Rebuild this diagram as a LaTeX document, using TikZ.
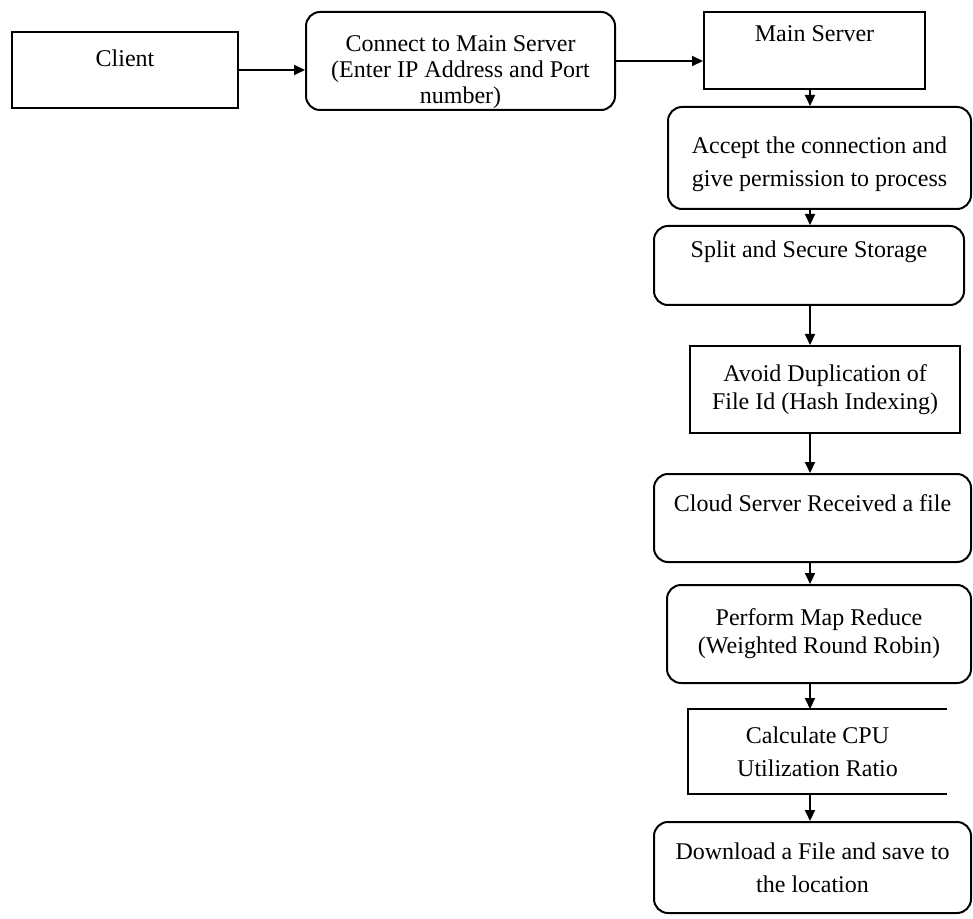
\documentclass[tikz,border=0pt]{standalone}
\usepackage{fontspec}
\setmainfont{Liberation Serif}
\usetikzlibrary{arrows.meta}
\tikzset{
  blk/.style={draw, line width=1pt, align=center, font=\fontsize{12}{14}\selectfont, inner sep=2pt},
  rblk/.style={blk, rounded corners=7pt},
  loose/.style={font=\fontsize{12}{16.5}\selectfont},
  flow/.style={line width=1pt, -{Triangle[length=5.5pt,width=5pt]}}
}

\begin{document}
\begin{tikzpicture}[x=0.5pt,y=-0.5pt]
\useasboundingbox (0,0) rectangle (973,919);

\node[blk,minimum width=113pt,minimum height=38pt,text depth=12pt] (client) at (125,70) {Client};
\node[rblk,font=\fontsize{12}{13}\selectfont,inner ysep=0pt,minimum width=154.5pt,minimum height=49pt] (connect) at (460.5,61)
  {\rule{0pt}{19pt}Connect to Main Server\\(Enter IP Address and Port\\number)};
\node[blk,minimum width=110.5pt,minimum height=38.5pt,text depth=17pt] (main) at (814.5,50.5) {Main Server};
\node[rblk,loose,minimum width=151.5pt,minimum height=51pt] (accept) at (819.5,158)
  {\rule{0pt}{14.5pt}Accept the connection and\\give permission to process};
\node[rblk,minimum width=155pt,minimum height=39.5pt,text depth=16pt] (split) at (809,265.5) {Split and Secure Storage};
\node[blk,minimum width=135pt,minimum height=43.5pt] (avoid) at (825,389.5) {Avoid Duplication of\\File Id (Hash Indexing)};
\node[rblk,minimum width=158.5pt,minimum height=44pt,text depth=15pt] (cloud) at (812.5,518) {Cloud Server Received a file};
\node[rblk,minimum width=152pt,minimum height=49pt] (perform) at (819,634) {Perform Map Reduce\\(Weighted Round Robin)};
\node[blk,loose,draw=none,minimum width=128.5pt,minimum height=41.5pt] (calc) at (817.5,751.5) {Calculate CPU\\Utilization Ratio};
\draw[line width=1pt] (calc.north east) -- (calc.north west) -- (calc.south west) -- (calc.south east);
\node[rblk,loose,minimum width=158.5pt,minimum height=45.5pt] (download) at (812.5,867.5) {Download a File and save to\\the location};

\draw[flow] (client.east) -- (client.east -| connect.west);
\draw[flow] (connect.east) -- (connect.east -| main.west);

% vertical chain on the right
\coordinate (spine) at (810,0);
\foreach \a/\b in {main/accept,accept/split,split/avoid,avoid/cloud,cloud/perform,perform/calc,calc/download}
  \draw[flow] (spine |- \a.south) -- (spine |- \b.north);
\end{tikzpicture}
\end{document}
